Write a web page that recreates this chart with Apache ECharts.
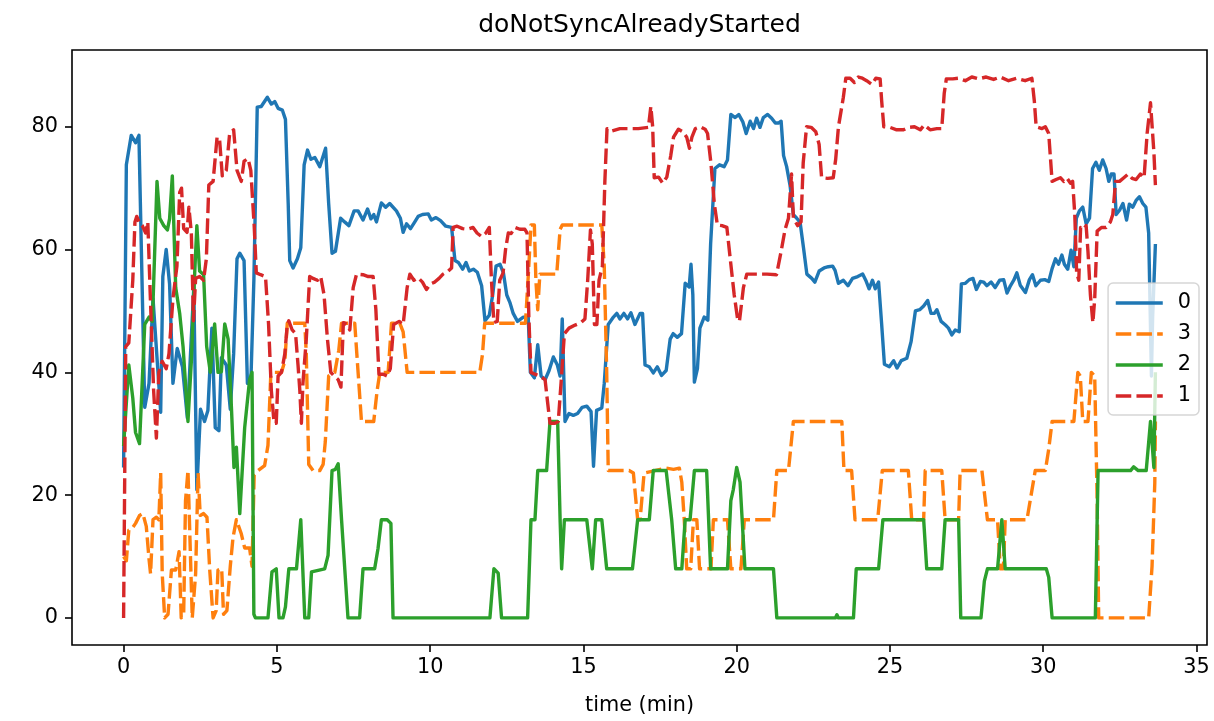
<!DOCTYPE html>
<html>
<head>
<meta charset="utf-8">
<title>doNotSyncAlreadyStarted</title>
<script src="https://cdn.jsdelivr.net/npm/echarts@6/dist/echarts.min.js"></script>
<style>
  html, body { margin: 0; padding: 0; background: #ffffff; }
  #chart { width: 1214px; height: 721px; }
</style>
</head>
<body>
<div id="chart"></div>
<script>
// Chart text
const chartTitle = 'doNotSyncAlreadyStarted';
const xAxisTitle = 'time (min)';
const legendOrder = ['0', '3', '2', '1'];

// Tick labels
const xTicks = [0, 5, 10, 15, 20, 25, 30, 35];
const yTicks = [0, 20, 40, 60, 80];

// Series "0": [time (min), value]
const load0 = [
  [0, 24.5], [0.09, 73.8], [0.25, 78.6], [0.39, 77.4], [0.5, 78.6], [0.69, 34.3], [0.83, 38.2], [0.96, 52],
  [1.21, 33.5], [1.28, 55.6], [1.39, 60], [1.5, 54.4], [1.61, 38.2], [1.75, 43.9], [1.92, 40.9], [2.08, 32.6],
  [2.29, 53.8], [2.39, 20.9], [2.51, 34], [2.64, 32], [2.75, 33.8], [2.88, 47.2], [2.99, 31], [3.11, 30.5],
  [3.19, 42.4], [3.35, 41.2], [3.48, 34], [3.59, 43], [3.7, 58.5], [3.79, 59.4], [3.93, 58.2], [4.04, 38.2],
  [4.15, 38.2], [4.25, 55], [4.36, 83.2], [4.49, 83.3], [4.69, 84.8], [4.82, 83.7], [4.93, 84.1], [5.04, 83],
  [5.18, 82.7], [5.28, 81.2], [5.37, 67.5], [5.42, 58.2], [5.53, 57], [5.67, 58.5], [5.78, 60.3], [5.89, 73.8],
  [6.0, 76.2], [6.11, 74.7], [6.24, 75], [6.4, 73.5], [6.59, 76.5], [6.69, 67.5], [6.8, 59.4], [6.91, 59.7],
  [7.08, 65.1], [7.21, 64.5], [7.35, 63.9], [7.52, 66.3], [7.65, 66.3], [7.81, 64.8], [7.96, 66.6], [8.07, 65],
  [8.16, 65.7], [8.25, 64.5], [8.41, 67.6], [8.55, 66.9], [8.68, 67.5], [8.9, 66.3], [9.03, 65.1], [9.12, 62.8],
  [9.23, 64.2], [9.36, 63.4], [9.5, 64.5], [9.61, 65.4], [9.75, 65.7], [9.94, 65.8], [10.04, 64.8], [10.19, 65.2],
  [10.34, 64.7], [10.51, 63.8], [10.7, 63.6], [10.81, 58.2], [10.92, 57.9], [11.06, 56.8], [11.17, 57.9], [11.28, 56.5],
  [11.41, 56.8], [11.54, 56.3], [11.68, 54.1], [11.79, 48.4], [11.93, 49.3], [12.04, 52.6], [12.15, 57.3], [12.28, 57.6],
  [12.39, 56.2], [12.5, 52.6], [12.6, 51.4], [12.71, 49.6], [12.85, 48.3], [13.04, 49], [13.2, 49], [13.27, 40],
  [13.4, 39.1], [13.51, 44.5], [13.62, 39.4], [13.75, 38.8], [13.88, 40.3], [14.02, 42.5], [14.15, 41.2], [14.24, 39.4],
  [14.31, 48.7], [14.4, 32], [14.53, 33.3], [14.67, 33], [14.81, 33.3], [14.96, 34.3], [15.11, 34.5], [15.25, 33.6],
  [15.33, 24.7], [15.43, 33.8], [15.6, 34.2], [15.68, 38.2], [15.81, 47.8], [15.98, 49], [16.09, 49.6], [16.19, 48.7],
  [16.32, 49.6], [16.44, 48.7], [16.55, 49.7], [16.68, 47.8], [16.85, 49.6], [16.93, 49.6], [17.01, 41.2], [17.15, 40.9],
  [17.28, 39.9], [17.41, 40.9], [17.55, 39.5], [17.7, 40.3], [17.83, 45.4], [17.93, 46.3], [18.06, 45.7], [18.2, 46.3],
  [18.32, 54.5], [18.45, 53.9], [18.51, 57.6], [18.57, 52.6], [18.62, 38.4], [18.72, 40.6], [18.8, 47.2], [18.94, 49],
  [19.06, 48.5], [19.15, 60.9], [19.29, 73.2], [19.44, 73.8], [19.59, 73.5], [19.7, 74.6], [19.81, 82], [19.95, 81.5],
  [20.07, 82], [20.2, 80.8], [20.31, 78.9], [20.44, 80.9], [20.55, 79.7], [20.65, 81.4], [20.76, 79.9], [20.87, 81.5],
  [21.01, 82], [21.14, 81.4], [21.26, 80.6], [21.36, 80.6], [21.45, 80.9], [21.53, 75.3], [21.63, 73.5], [21.74, 70.5],
  [21.85, 65.7], [21.96, 65.1], [22.07, 64.4], [22.18, 60.3], [22.29, 56], [22.45, 55.3], [22.55, 54.7], [22.69, 56.5],
  [22.85, 57], [22.99, 57.2], [23.13, 57.3], [23.21, 56.6], [23.32, 54.5], [23.48, 55], [23.63, 54.1], [23.78, 55.3],
  [23.95, 55.6], [24.11, 56], [24.21, 55], [24.32, 53.6], [24.43, 55], [24.52, 53.6], [24.63, 54.7], [24.73, 47.8],
  [24.82, 41.3], [24.98, 40.9], [25.12, 41.9], [25.23, 40.7], [25.37, 41.9], [25.55, 42.3], [25.69, 45], [25.83, 50],
  [25.97, 50.2], [26.1, 50.8], [26.23, 51.7], [26.34, 49.6], [26.45, 49.6], [26.53, 50.2], [26.67, 48.3], [26.81, 47.7],
  [26.91, 47.2], [27.02, 46.1], [27.13, 46.9], [27.26, 46.6], [27.33, 54.4], [27.46, 54.5], [27.59, 55.1], [27.71, 55.3],
  [27.82, 53.5], [27.95, 54.8], [28.06, 54.7], [28.16, 54.1], [28.3, 54.7], [28.43, 53.8], [28.58, 55], [28.71, 55.1],
  [28.82, 52.9], [28.93, 54.1], [29.04, 55], [29.14, 56.2], [29.25, 54.2], [29.42, 53], [29.55, 55.1], [29.65, 55.9],
  [29.76, 54.1], [29.91, 55], [30.05, 55.1], [30.18, 54.8], [30.29, 56.9], [30.4, 58.5], [30.5, 57.6], [30.61, 59.1],
  [30.69, 57.6], [30.8, 56.8], [30.91, 59.9], [31.0, 57.2], [31.08, 65.1], [31.18, 66.3], [31.29, 66.9], [31.4, 64.2],
  [31.51, 65.1], [31.61, 73.2], [31.72, 74.2], [31.83, 72.9], [31.94, 74.6], [32.05, 73.2], [32.14, 71.1], [32.22, 72.3],
  [32.31, 72.3], [32.38, 65.7], [32.49, 66.4], [32.6, 67.5], [32.72, 64.8], [32.81, 67.4], [32.92, 66.9], [33.03, 68],
  [33.14, 68.6], [33.25, 67.5], [33.35, 66.9], [33.44, 62.7], [33.53, 39.4], [33.57, 49], [33.66, 60.9]
];

// Series "3"
const load3 = [
  [0, 10], [0.09, 9.3], [0.17, 14.3], [0.28, 14.6], [0.39, 15.4], [0.52, 16.7], [0.63, 17], [0.74, 14.9],
  [0.83, 9.6], [0.88, 7.2], [0.96, 16], [1.07, 16.4], [1.15, 16], [1.21, 23.6], [1.26, 7.2], [1.34, 0],
  [1.45, 0.6], [1.56, 7.8], [1.7, 7.8], [1.81, 10.8], [1.88, 0], [1.96, 0.6], [2.02, 19.1], [2.1, 24],
  [2.15, 15.5], [2.24, 0], [2.35, 7.2], [2.43, 23.6], [2.5, 16.7], [2.61, 17], [2.72, 16.4], [2.81, 7.8],
  [2.92, 0], [3.02, 1.2], [3.08, 7.8], [3.2, 8], [3.26, 0.6], [3.37, 1.2], [3.48, 8.4], [3.57, 13.1],
  [3.68, 16], [3.84, 13.7], [3.95, 11.4], [4.11, 11.4], [4.19, 8.4], [4.26, 23.3], [4.39, 24], [4.6, 24.8],
  [4.71, 28.1], [4.8, 39.4], [4.93, 40], [5.15, 40], [5.26, 41.8], [5.34, 48], [5.53, 48], [5.75, 48],
  [5.91, 48], [5.96, 43], [6.04, 25], [6.18, 24], [6.4, 24], [6.51, 25], [6.58, 28.7], [6.69, 39.4],
  [6.89, 40], [7.02, 43.6], [7.11, 48], [7.32, 48], [7.54, 48], [7.65, 40], [7.76, 32], [8.16, 32],
  [8.27, 37], [8.36, 40], [8.63, 40], [8.74, 48], [9.01, 48], [9.12, 46.6], [9.25, 40], [11.62, 40],
  [11.71, 43], [11.78, 48], [13.11, 48], [13.2, 55.6], [13.29, 64], [13.4, 64], [13.45, 55], [13.51, 50.2],
  [13.58, 56], [13.75, 56], [14.13, 56], [14.24, 63.3], [14.31, 64], [15.6, 64], [15.68, 57.3], [15.76, 40],
  [15.81, 24], [16.49, 24], [16.63, 23.6], [16.77, 16], [16.85, 16], [16.98, 23.6], [17.7, 24.4], [17.94, 24.2],
  [18.13, 24.4], [18.21, 22.1], [18.29, 16], [18.37, 8], [18.5, 8], [18.59, 16], [18.7, 16], [18.79, 8],
  [19.16, 8], [19.24, 16], [19.7, 16], [19.81, 8], [20.14, 8], [20.25, 16], [21.2, 16], [21.31, 24],
  [21.69, 24], [21.85, 32], [23.43, 32], [23.5, 24], [23.75, 24], [23.86, 16], [24.6, 16], [24.75, 24],
  [25.6, 24], [25.71, 16], [26.1, 16], [26.15, 24], [26.69, 24], [26.8, 16], [27.24, 16], [27.29, 24],
  [28.0, 24], [28.18, 16], [28.51, 16], [28.6, 8], [28.7, 8], [28.76, 16], [29.47, 16], [29.74, 24],
  [30.07, 24], [30.18, 27.5], [30.29, 32], [31.0, 32], [31.13, 40], [31.21, 39.4], [31.29, 32], [31.46, 32],
  [31.57, 40], [31.68, 39.4], [31.76, 19.1], [31.81, 0], [33.44, 0], [33.55, 8.4], [33.64, 22], [33.66, 32]
];

// Series "2"
const load2 = [
  [0, 28], [0.17, 41.2], [0.3, 35.8], [0.39, 30.2], [0.52, 28.4], [0.69, 47.8], [0.83, 49], [0.94, 48.3],
  [1.09, 71.1], [1.18, 65.1], [1.31, 63.9], [1.43, 63.2], [1.5, 65], [1.59, 72], [1.7, 53.8], [1.83, 49.6],
  [1.94, 44.2], [2.1, 32], [2.21, 41.8], [2.32, 56.2], [2.39, 63.9], [2.48, 56.5], [2.61, 55.9], [2.71, 44.2],
  [2.83, 40], [2.97, 47.9], [3.08, 40], [3.19, 40.1], [3.3, 47.9], [3.41, 45.4], [3.52, 34], [3.6, 24.5],
  [3.68, 27.8], [3.79, 17], [3.95, 31], [4.11, 38.8], [4.19, 40], [4.25, 0.6], [4.3, 0], [4.71, 0],
  [4.84, 7.5], [4.98, 8], [5.07, 0], [5.2, 0], [5.28, 1.8], [5.39, 8], [5.64, 8], [5.78, 16],
  [5.91, 0], [6.04, 0], [6.13, 7.5], [6.56, 8], [6.67, 10.2], [6.8, 24], [6.91, 24.2], [7.0, 25.1],
  [7.11, 16], [7.32, 0], [7.7, 0], [7.81, 8], [8.19, 8], [8.3, 11.3], [8.41, 16], [8.6, 16],
  [8.72, 15.4], [8.79, 0], [11.95, 0], [12.08, 8], [12.22, 7.3], [12.33, 0], [13.18, 0], [13.29, 16],
  [13.42, 16], [13.51, 24], [13.8, 24], [13.91, 32], [14.16, 32], [14.24, 16], [14.29, 8], [14.38, 16],
  [15.11, 16], [15.29, 8], [15.4, 16], [15.6, 16], [15.76, 8], [16.6, 8], [16.77, 16], [17.15, 16],
  [17.28, 24], [17.7, 24], [17.88, 16], [18.01, 8], [18.21, 8], [18.32, 16], [18.48, 16], [18.62, 24],
  [19.02, 24], [19.15, 8], [19.7, 8], [19.81, 19.1], [19.89, 20.9], [20.0, 24.5], [20.11, 22.1], [20.27, 8],
  [21.2, 8], [21.31, 0], [23.22, 0], [23.27, 0.5], [23.32, 0], [23.81, 0], [23.9, 8], [24.63, 8],
  [24.77, 16], [26.1, 16], [26.2, 8], [26.69, 8], [26.8, 16], [27.24, 16], [27.31, 0], [27.97, 0],
  [28.08, 6], [28.18, 8], [28.51, 8], [28.65, 16], [28.76, 8], [30.1, 8], [30.18, 6.6], [30.29, 0],
  [31.7, 0], [31.79, 24], [32.85, 24], [32.95, 24.6], [33.1, 24], [33.36, 24], [33.5, 32], [33.61, 24.5],
  [33.66, 40]
];

// Series "1"
const load1 = [
  [0, 0], [0.07, 44.2], [0.17, 44.8], [0.3, 55], [0.37, 64.5], [0.43, 65.4], [0.52, 64.2], [0.61, 63.9],
  [0.72, 62.7], [0.79, 64.5], [0.87, 52.6], [0.98, 37], [1.07, 29.3], [1.15, 40], [1.26, 41.8], [1.39, 40.6],
  [1.48, 43], [1.61, 52], [1.74, 57.3], [1.83, 69.3], [1.89, 70], [1.96, 63.4], [2.07, 62.8], [2.13, 66.9],
  [2.21, 62.7], [2.28, 48.4], [2.35, 55.3], [2.48, 55.6], [2.61, 55], [2.7, 58.5], [2.78, 70.5], [2.92, 71.1],
  [3.05, 78.3], [3.13, 78], [3.22, 72], [3.35, 72.9], [3.46, 78.9], [3.59, 79.5], [3.7, 72.9], [3.75, 72.9],
  [3.84, 71.1], [3.93, 74.4], [4.06, 74.8], [4.15, 72.9], [4.26, 63.9], [4.33, 56.2], [4.47, 55.9], [4.63, 55.6],
  [4.73, 47.8], [4.82, 37], [4.91, 31.7], [4.98, 31.7], [5.04, 39.4], [5.15, 40], [5.26, 43], [5.34, 47.8],
  [5.39, 48.4], [5.5, 46.9], [5.61, 46.3], [5.69, 41.2], [5.75, 37], [5.8, 31.7], [5.85, 38.2], [5.96, 45.4],
  [6.07, 55.6], [6.18, 55.3], [6.32, 55], [6.43, 55.6], [6.54, 52.6], [6.65, 45.4], [6.76, 40], [6.87, 39.4],
  [7.0, 38.8], [7.09, 37.6], [7.17, 48.1], [7.3, 47.8], [7.38, 46.9], [7.49, 53.8], [7.6, 56], [7.81, 55.9],
  [7.98, 55.6], [8.14, 55.6], [8.23, 50.2], [8.33, 39.7], [8.47, 39.7], [8.6, 39.4], [8.7, 40.6], [8.81, 47.8],
  [8.99, 48.3], [9.12, 47.8], [9.25, 53.8], [9.34, 56], [9.47, 55], [9.61, 55.4], [9.75, 54.7], [9.88, 53.5],
  [10.01, 54.4], [10.15, 54.7], [10.29, 55.3], [10.42, 56], [10.59, 56.5], [10.7, 57], [10.75, 63.6], [10.88, 63.8],
  [11.06, 63.4], [11.21, 63.3], [11.4, 63.6], [11.53, 62.7], [11.68, 62.1], [11.82, 62.7], [11.93, 63.6], [12.0, 55],
  [12.08, 48.1], [12.19, 48.3], [12.27, 55], [12.38, 56.2], [12.46, 60], [12.55, 62.7], [12.64, 62.6], [12.77, 63.6],
  [12.93, 63.3], [13.09, 63.3], [13.16, 62.7], [13.22, 49], [13.29, 40], [13.42, 39.7], [13.58, 39.4], [13.75, 38.8],
  [13.83, 35.2], [13.91, 31.7], [14.07, 31.7], [14.18, 32], [14.27, 38.2], [14.38, 46.3], [14.53, 47.2], [14.73, 47.7],
  [14.92, 48.1], [15.05, 48.7], [15.14, 55], [15.23, 63.2], [15.29, 60.9], [15.36, 47.8], [15.44, 47.8], [15.51, 55],
  [15.62, 57.3], [15.7, 71.1], [15.77, 79.7], [15.92, 79.3], [16.19, 79.7], [16.47, 79.7], [16.79, 79.7], [17.12, 79.9],
  [17.2, 83.3], [17.26, 80], [17.31, 71.7], [17.45, 71.8], [17.59, 70.8], [17.72, 71.8], [17.85, 75.3], [17.94, 78.3],
  [18.1, 79.6], [18.24, 79.2], [18.37, 78.3], [18.46, 76.5], [18.54, 78.3], [18.65, 79.7], [18.81, 80], [18.97, 79.6],
  [19.05, 78.9], [19.16, 74.1], [19.27, 67.5], [19.37, 64], [19.52, 63.9], [19.68, 63.6], [19.79, 58.5], [19.92, 52.6],
  [20.03, 48.7], [20.09, 48.3], [20.22, 53.8], [20.33, 56], [20.6, 56], [20.99, 56], [21.3, 55.9], [21.45, 59.7],
  [21.58, 63.3], [21.69, 65.1], [21.79, 72.3], [21.85, 65.1], [21.99, 63.9], [22.1, 64.5], [22.17, 74.1], [22.28, 80],
  [22.43, 79.9], [22.58, 79.2], [22.69, 77.1], [22.77, 71.7], [22.97, 71.6], [23.15, 71.7], [23.23, 74.7], [23.32, 80],
  [23.48, 84.8], [23.56, 87.9], [23.7, 87.9], [23.84, 87.2], [23.97, 88.1], [24.1, 87.9], [24.24, 87.5], [24.41, 86.9],
  [24.54, 87.9], [24.68, 87.8], [24.73, 84.2], [24.8, 80], [25.0, 79.9], [25.22, 79.5], [25.44, 79.5], [25.6, 79.9],
  [25.8, 80], [25.99, 79.5], [26.12, 80.3], [26.31, 79.5], [26.53, 79.7], [26.69, 79.7], [26.77, 85.4], [26.84, 87.8],
  [27.05, 87.8], [27.24, 87.9], [27.46, 87.5], [27.67, 88.1], [27.89, 87.8], [28.14, 88.1], [28.38, 87.7], [28.6, 88.1],
  [28.87, 87.5], [29.14, 87.9], [29.41, 87.5], [29.63, 87.9], [29.71, 84.2], [29.77, 80], [29.96, 79.7], [30.07, 80],
  [30.18, 78.9], [30.29, 71.1], [30.42, 71.4], [30.56, 71.7], [30.67, 71.1], [30.78, 71.6], [30.89, 70.8], [30.96, 71.1],
  [31.03, 65.7], [31.09, 56.2], [31.16, 55], [31.22, 63.6], [31.32, 63.3], [31.4, 63.9], [31.46, 59.7], [31.54, 52.6],
  [31.62, 48.1], [31.68, 52], [31.76, 63], [31.9, 63.6], [32.05, 63.6], [32.19, 64.5], [32.27, 65.7], [32.36, 71.1],
  [32.49, 71.1], [32.63, 71.7], [32.77, 72.3], [32.9, 71.6], [33.03, 71.4], [33.17, 72.3], [33.29, 71.7], [33.39, 78.9],
  [33.5, 83.9], [33.55, 84.2], [33.61, 75.9], [33.66, 70.5]
];

const FONT = 'DejaVu Sans';
const LINE_WIDTH = 3.4;
const DASH = [15.5, 5.2];

function lineSeries(name, data, color, dashed) {
  return {
    name: name,
    type: 'line',
    data: data,
    symbol: 'none',
    showSymbol: false,
    smooth: false,
    animation: false,
    lineStyle: { color: color, width: LINE_WIDTH, type: dashed ? DASH : 'solid', join: 'round', cap: 'butt' },
    itemStyle: { color: color },
    emphasis: { disabled: true }
  };
}

const chart = echarts.init(document.getElementById('chart'), null, { renderer: 'canvas' });

chart.setOption({
  backgroundColor: '#ffffff',
  animation: false,
  grid: {
    left: 72, top: 50, width: 1135, height: 598,
    show: true, borderColor: '#000000', borderWidth: 1.6, backgroundColor: 'transparent'
  },
  graphic: [{
    type: 'text',
    x: 639.5, y: 25,
    style: {
      text: chartTitle,
      font: '25px "DejaVu Sans"',
      fill: '#000000',
      textAlign: 'center',
      textVerticalAlign: 'middle'
    }
  }],
  legend: {
    data: legendOrder,
    orient: 'vertical',
    right: 15,
    top: 283,
    itemWidth: 47,
    itemHeight: 12,
    itemGap: 7,
    padding: [8, 8, 7, 6],
    backgroundColor: 'rgba(255,255,255,0.8)',
    borderColor: 'rgba(204,204,204,0.8)',
    borderWidth: 1.5,
    borderRadius: 5,
    selectedMode: false,
    itemStyle: { opacity: 0 },
    lineStyle: { width: LINE_WIDTH },
    textStyle: {
      fontFamily: FONT, fontSize: 20.8, color: '#000000', lineHeight: 24,
      padding: [0, 0, 0, 10]
    }
  },
  xAxis: {
    type: 'value',
    min: -1.683,
    max: 35.343,
    name: xAxisTitle,
    nameLocation: 'middle',
    nameGap: 50,
    nameTextStyle: { fontFamily: FONT, fontSize: 20.8, color: '#000000' },
    axisLine: { show: false, onZero: false },
    splitLine: { show: false },
    axisTick: {
      show: true, length: 7, inside: false,
      lineStyle: { color: '#000000', width: 1.6 },
      customValues: xTicks
    },
    axisLabel: {
      show: true, margin: 12,
      fontFamily: FONT, fontSize: 20.8, color: '#000000',
      customValues: xTicks,
      formatter: (v) => String(v)
    }
  },
  yAxis: {
    type: 'value',
    min: -4.41,
    max: 92.5,
    axisLine: { show: false, onZero: false },
    splitLine: { show: false },
    axisTick: {
      show: true, length: 7, inside: false,
      lineStyle: { color: '#000000', width: 1.6 },
      customValues: yTicks
    },
    axisLabel: {
      show: true, margin: 14,
      padding: [5, 0, 0, 0],
      fontFamily: FONT, fontSize: 20.8, color: '#000000',
      customValues: yTicks,
      formatter: (v) => String(v)
    }
  },
  series: [
    lineSeries('0', load0, '#1f77b4', false),
    lineSeries('3', load3, '#ff7f0e', true),
    lineSeries('2', load2, '#2ca02c', false),
    lineSeries('1', load1, '#d62728', true)
  ]
});
</script>
</body>
</html>
